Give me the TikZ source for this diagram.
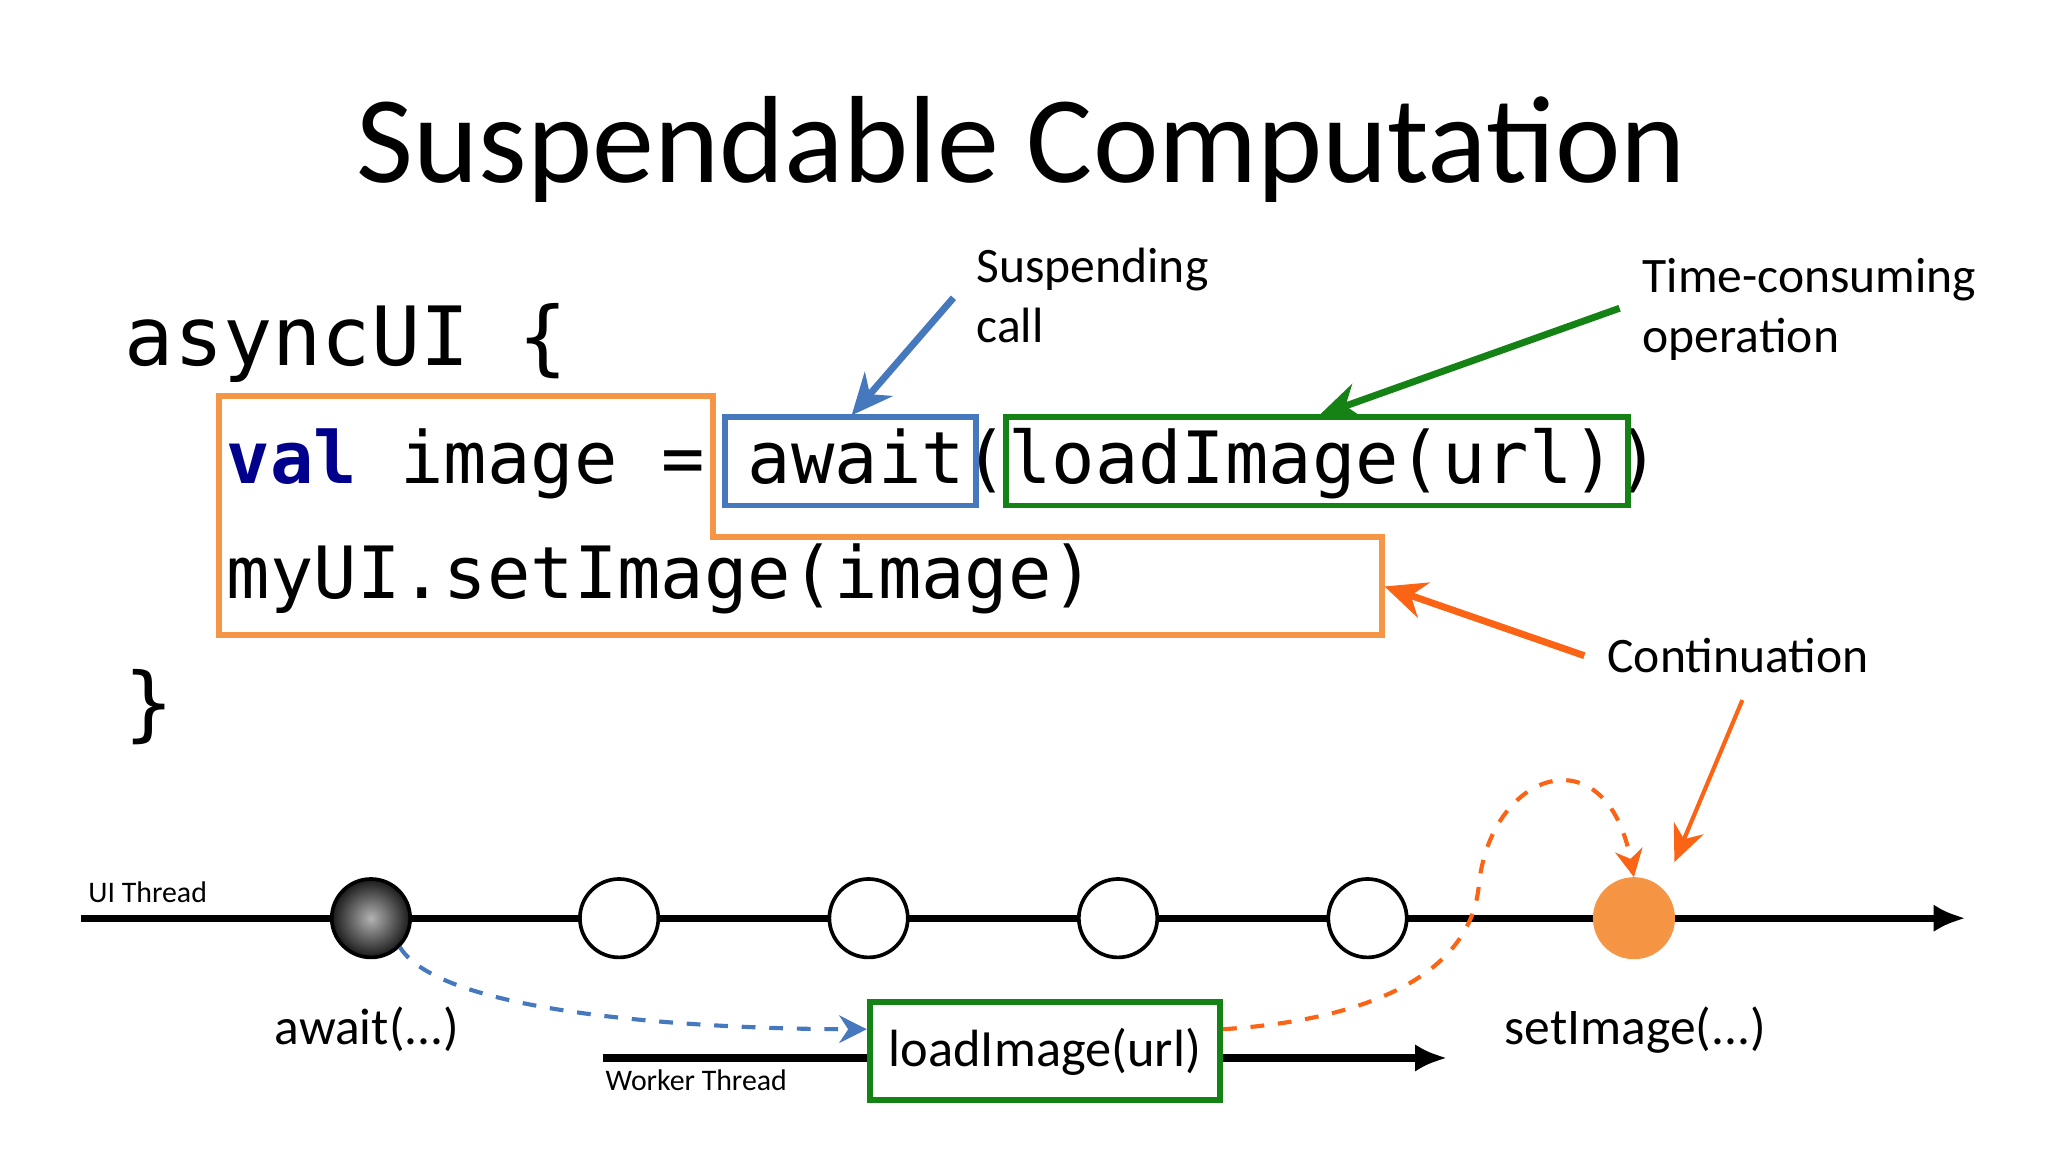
\documentclass[tikz,border=0pt]{standalone}
\usepackage{fontspec}
\setmainfont{Carlito}
\newfontfamily\codefont{DejaVu Sans Mono}
\usetikzlibrary{arrows.meta}
\definecolor{ob}{RGB}{245,150,70}
\definecolor{oarr}{RGB}{250,100,20}
\definecolor{bb}{RGB}{70,120,190}
\definecolor{gb}{RGB}{20,130,20}
\definecolor{valc}{RGB}{0,0,140}
\begin{document}
\begin{tikzpicture}[x=0.01cm,y=-0.01cm,
  code/.style={anchor=base west,inner sep=0,font=\codefont\fontsize{15.7}{18}\selectfont},
  lab/.style={anchor=base west,inner sep=0,font=\fontsize{10.8}{13}\selectfont,align=left},
  circ/.style={circle,draw=black,line width=0.8pt,minimum size=0.6cm,inner sep=0,fill=white},
  thr/.style={line width=1.6pt,-{Latex[length=7pt,width=6pt]}},
  small/.style={anchor=base west,inner sep=0,font=\fontsize{6.5}{8}\selectfont}]
\useasboundingbox (0,0) rectangle (1568,882);
\node[anchor=base,inner sep=0,font=\fontsize{27}{32}\selectfont] (title) at (782,140) {Suspendable Computation};
\node[anchor=base west,inner sep=0,font=\codefont\fontsize{17.8}{20}\selectfont] (l1) at (95,280) {asyncUI \{};
\node[code] (l2) at (173,370) {\textcolor{valc}{\bfseries val} image = await(loadImage(url))};
\node[code] (l3) at (173,458) {myUI.setImage(image)};
\node[anchor=base west,inner sep=0,font=\codefont\fontsize{17.8}{20}\selectfont] (l4) at (95,560) {\}};
\draw[ob,line width=1.3pt] (168,303) -- (546,303) -- (546,411) -- (1058,411) -- (1058,486) -- (168,486) -- cycle;
\node[draw=bb,line width=1.3pt,minimum width=1.92cm,minimum height=0.68cm,inner sep=0] (bbox) at (651,353) {};
\node[draw=gb,line width=1.3pt,minimum width=4.76cm,minimum height=0.68cm,inner sep=0] (gbox) at (1008,353) {};
\node[lab] (susp) at (747,262) {Suspending\\call};
\node[lab] (time) at (1257,270) {Time-consuming\\operation};
\node[lab] (cont) at (1230,515) {Continuation};
\coordinate (s1) at (730,228); \coordinate (s2) at (652,318);
\coordinate (t1) at (1240,236); \coordinate (t2) at (1010,318);
\coordinate (c1) at (1213,502); \coordinate (c2) at (1060,449);
\coordinate (d1) at (1334,536); \coordinate (d2) at (1282,660);
\draw[bb,line width=1.5pt,-{Stealth[length=9pt,width=8pt]}] (s1) -- (s2);
\draw[gb,line width=1.5pt,-{Stealth[length=9pt,width=8pt]}] (t1) -- (t2);
\draw[oarr,line width=1.5pt,-{Stealth[length=9pt,width=8pt]}] (c1) -- (c2);
\draw[oarr,line width=0.9pt,-{Stealth[length=8pt,width=7pt]}] (d1) -- (d2);
% threads
\coordinate (u0) at (62,703); \coordinate (u1) at (1505,703);
\draw[thr] (u0) -- (u1);
\node[small] (uil) at (67,691) {UI Thread};
\coordinate (w0) at (462,810); \coordinate (w1) at (1108,810);
\draw[thr] (w0) -- (w1);
\node[small] (wl) at (463,835) {Worker Thread};
\node[circ,inner color=gray!60,outer color=black!90] (n1) at (284,703) {};
\node[circ] (n2) at (474,703) {};
\node[circ] (n3) at (665,703) {};
\node[circ] (n4) at (856,703) {};
\node[circ] (n5) at (1047,703) {};
\node[circ,draw=ob,fill=ob!95!orange] (n6) at (1251,703) {};
\node[draw=gb,line width=1.3pt,fill=white,minimum width=2.68cm,minimum height=0.75cm,inner sep=0,font=\fontsize{11.4}{14}\selectfont] (load) at (800,805) {loadImage(url)};
\node[anchor=base,inner sep=0,font=\fontsize{11.2}{14}\selectfont] (aw) at (281,800) {await(...)};
\node[anchor=base,inner sep=0,font=\fontsize{11.2}{14}\selectfont] (si) at (1252,800) {setImage(...)};
\draw[bb,dashed,line width=0.9pt,-{Stealth[length=6pt,width=6pt]}] (n1.south east) .. controls (340,780) and (560,788) .. (load.west |- 0,788);
\draw[oarr,dashed,line width=0.9pt,-{Stealth[length=6pt,width=6pt]}] (load.east |- 0,788) .. controls (1060,780) and (1125,740) .. (1132,680) .. controls (1140,590) and (1230,560) .. (n6.north);
\end{tikzpicture}
\end{document}
